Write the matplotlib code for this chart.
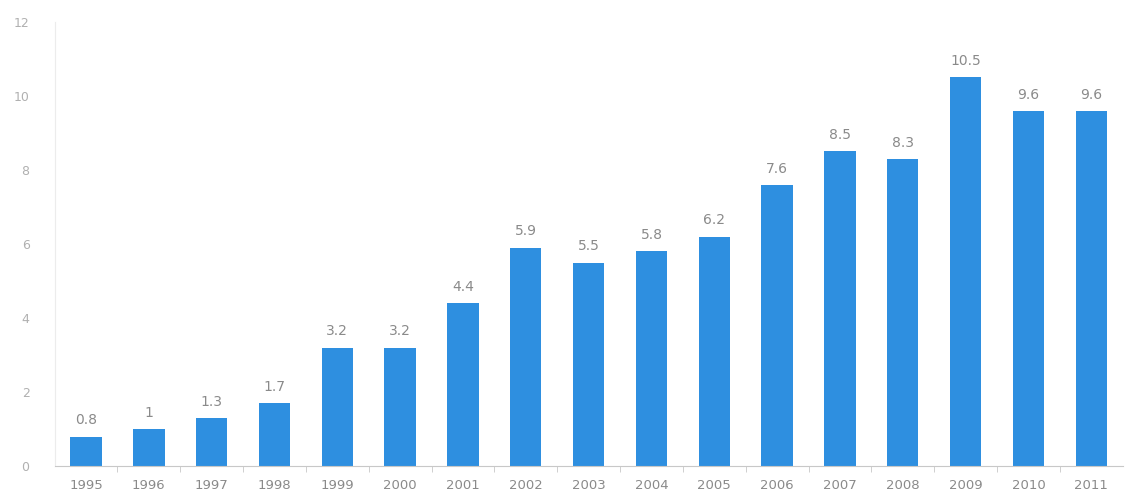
import matplotlib.pyplot as plt

years = ['1995', '1996', '1997', '1998', '1999', '2000', '2001', '2002', '2003',
         '2004', '2005', '2006', '2007', '2008', '2009', '2010', '2011']
values = [0.8, 1, 1.3, 1.7, 3.2, 3.2, 4.4, 5.9, 5.5, 5.8, 6.2, 7.6, 8.5, 8.3, 10.5, 9.6, 9.6]
y_ticks = [0, 2, 4, 6, 8, 10, 12]

BAR_COLOR = '#2e8fe0'
TEXT_COLOR = '#8a8a8a'
AXIS_COLOR = '#c8c8c8'


def plot_bars():
    fig = plt.figure(figsize=(11.26, 4.98), dpi=100)
    ax = fig.add_axes([0.0485, 0.064, 0.9485, 0.892])

    x = list(range(len(years)))
    bars = ax.bar(x, values, width=0.5, color=BAR_COLOR)
    for b, v in zip(bars, values):
        ax.text(b.get_x() + b.get_width() / 2, v + 0.25, f"{v:g}",
                ha='center', va='bottom', fontsize=10, color=TEXT_COLOR)

    ax.set_xlim(-0.5, len(years) - 0.5)
    ax.set_ylim(0, 12)
    ax.set_yticks(y_ticks)
    ax.set_yticklabels([str(t) for t in y_ticks])

    # year labels centred under bars, tick marks at category boundaries
    ax.set_xticks(x)
    ax.set_xticklabels(years)
    ax.set_xticks([i + 0.5 for i in x[:-1]], minor=True)
    ax.tick_params(axis='x', which='major', length=0, pad=9, labelsize=9.5,
                   labelcolor=TEXT_COLOR)
    ax.tick_params(axis='x', which='minor', length=4, color=AXIS_COLOR)
    ax.tick_params(axis='y', length=0, pad=18, labelsize=9, labelcolor='#b0b0b0')

    for side in ['top', 'right']:
        ax.spines[side].set_visible(False)
    ax.spines['left'].set_color('#ececec')
    ax.spines['bottom'].set_color(AXIS_COLOR)

    fig.savefig('out.png', dpi=100)


if __name__ == "__main__":
    plot_bars()
